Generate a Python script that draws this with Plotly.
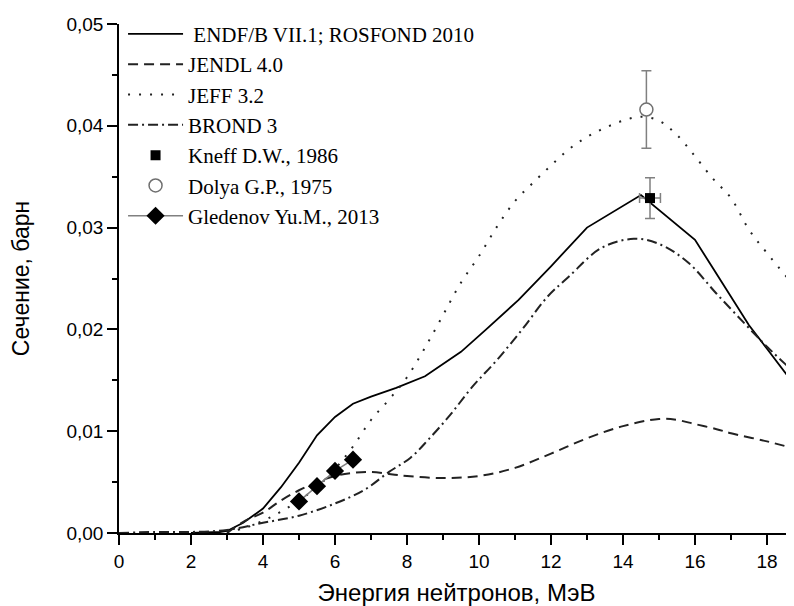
import plotly.graph_objects as go

# ---- data ----
endf_x = [2.0, 2.8, 3.0, 3.45, 4.0, 4.5, 5.0, 5.5, 6.0, 6.5, 7.0, 7.7, 8.5, 9.5, 10.2, 11.1, 12.0, 13.0, 14.5, 16.0, 16.5, 17.0, 17.5, 18.0, 18.75]
endf_y = [0.0, 0.0001, 0.0002, 0.001, 0.0024, 0.0045, 0.0069, 0.0096, 0.0114, 0.0127, 0.0134, 0.01425, 0.0154, 0.0178, 0.0200, 0.0229, 0.0262, 0.0300, 0.0332, 0.0288, 0.0260, 0.0232, 0.0204, 0.0181, 0.0146]

jendl_x = [3.0, 3.5, 4.0, 4.5, 5.0, 5.5, 6.0, 6.5, 7.0, 7.5, 8.0, 9.0, 10.0, 11.0, 12.0, 13.0, 14.0, 15.0, 15.5, 16.0, 16.6, 17.0, 18.0, 18.75]
jendl_y = [0.0, 0.0012, 0.0020, 0.0032, 0.0042, 0.0050, 0.0056, 0.0059, 0.0060, 0.0058, 0.0056, 0.0054, 0.0056, 0.0064, 0.0078, 0.0093, 0.0105, 0.0112, 0.0111, 0.0107, 0.0102, 0.0098, 0.0090, 0.0083]

jeff_x = [3.0, 3.5, 4.0, 4.5, 5.0, 5.5, 6.0, 6.5, 7.0, 7.5, 8.0, 8.5, 9.0, 9.5, 10.0, 10.5, 11.0, 11.5, 12.0, 12.5, 13.0, 13.5, 14.0, 14.5, 15.0, 15.5, 16.0, 16.5, 17.0, 17.5, 18.0, 18.75]
jeff_y = [0.0001, 0.0005, 0.0012, 0.0021, 0.0032, 0.0045, 0.0063, 0.0085, 0.0111, 0.0131, 0.0153, 0.0182, 0.0214, 0.0246, 0.0272, 0.0301, 0.0326, 0.0344, 0.0361, 0.0377, 0.0389, 0.0398, 0.0405, 0.0409, 0.0405, 0.0391, 0.0370, 0.0348, 0.0329, 0.0298, 0.0275, 0.0243]

brond_x = [0.0, 1.0, 2.0, 3.0, 4.0, 5.0, 6.0, 6.8, 7.5, 8.1, 8.6, 9.2, 9.8, 10.5, 11.2, 11.9, 12.5, 13.4, 14.3, 15.0, 15.8, 16.6, 17.4, 18.0, 18.75]
brond_y = [0.0, 0.0001, 0.0001, 0.0003, 0.0010, 0.0017, 0.0029, 0.0042, 0.0060, 0.0074, 0.0092, 0.0116, 0.0143, 0.0170, 0.0200, 0.0232, 0.0252, 0.0280, 0.0289, 0.0284, 0.0266, 0.0235, 0.0205, 0.0183, 0.0158]

kneff_x = [14.75]
kneff_y = [0.0329]
kneff_dy = [0.0020]
kneff_dx = [0.29]

dolya_x = [14.65]
dolya_y = [0.0416]
dolya_dy = [0.0038]

gled_x = [5.0, 5.5, 6.0, 6.5]
gled_y = [0.0031, 0.0046, 0.0061, 0.0072]
gled_dy = [0.0003, 0.0003, 0.0003, 0.0004]

names = ["\u00a0ENDF/B VII.1; ROSFOND 2010", "JENDL 4.0", "JEFF 3.2", "BROND 3",
         "Kneff D.W., 1986", "Dolya G.P., 1975", "Gledenov Yu.M., 2013"]

x_ticks = list(range(0, 19, 2))
y_ticks = [0.0, 0.01, 0.02, 0.03, 0.04, 0.05]

# ---- figure ----
fig = go.Figure()
fig.add_trace(go.Scatter(x=endf_x, y=endf_y, mode="lines", name=names[0],
                         line=dict(color="black", width=1.8)))
fig.add_trace(go.Scatter(x=jendl_x, y=jendl_y, mode="lines", name=names[1], line_shape="spline",
                         line=dict(color="#222222", width=2, dash="10px,6px")))
fig.add_trace(go.Scatter(x=jeff_x, y=jeff_y, mode="lines", name=names[2], line_shape="spline",
                         line=dict(color="#222222", width=2, dash="2px,9px")))
fig.add_trace(go.Scatter(x=brond_x, y=brond_y, mode="lines", name=names[3], line_shape="spline",
                         line=dict(color="#222222", width=2, dash="10px,4px,2px,4px")))
fig.add_trace(go.Scatter(x=kneff_x, y=kneff_y, mode="markers", name=names[4],
                         marker=dict(symbol="square", size=10, color="black"),
                         error_y=dict(type="data", array=kneff_dy, color="#808080", thickness=1.5, width=5),
                         error_x=dict(type="data", array=kneff_dx, color="#808080", thickness=1.5, width=5)))
fig.add_trace(go.Scatter(x=dolya_x, y=dolya_y, mode="markers", name=names[5],
                         marker=dict(symbol="circle", size=13, color="white",
                                     line=dict(color="#707070", width=1.5)),
                         error_y=dict(type="data", array=dolya_dy, color="#808080", thickness=1.5, width=5)))
fig.add_trace(go.Scatter(x=gled_x, y=gled_y, mode="lines+markers", name=names[6],
                         line=dict(color="#808080", width=1.5),
                         marker=dict(symbol="diamond", size=14, color="black"),
                         error_y=dict(type="data", array=gled_dy, color="#808080", thickness=1.2, width=4)))

axis_common = dict(
    showgrid=False, zeroline=False, showline=True, linecolor="black", linewidth=1.5,
    ticks="outside", ticklen=10, tickwidth=1.5, tickcolor="black", automargin=False,
    tickfont=dict(family="Liberation Sans, Arial, sans-serif", size=19, color="black"),
)

fig.update_xaxes(range=[0, 18.75], tickvals=x_ticks,
                 minor=dict(dtick=1, ticks="outside", ticklen=5, tickwidth=1.5, tickcolor="black"),
                 title=dict(text="Энергия нейтронов, МэВ", standoff=22,
                            font=dict(family="Liberation Sans, Arial, sans-serif", size=24, color="black")),
                 **axis_common)
fig.update_yaxes(range=[0, 0.05], tickvals=y_ticks, tickformat=".2f",
                 minor=dict(dtick=0.005, ticks="outside", ticklen=5, tickwidth=1.5, tickcolor="black"),
                 title=dict(text="Сечение, барн", standoff=37,
                            font=dict(family="Liberation Sans, Arial, sans-serif", size=23, color="black")),
                 **axis_common)

# page body adds an 8px offset; compensate so the plot area matches the reference
fig.update_layout(
    width=786, height=598,
    margin=dict(l=111, r=0, t=16, b=73),
    paper_bgcolor="white", plot_bgcolor="white",
    separators=", ",
    showlegend=True,
    legend=dict(x=0.006, y=1.02, xanchor="left", yanchor="top",
                bgcolor="rgba(0,0,0,0)", borderwidth=0, itemwidth=55,
                font=dict(family="Liberation Serif, Times New Roman, serif", size=21, color="black"),
                tracegroupgap=0),
)

fig.write_html("out.html")
